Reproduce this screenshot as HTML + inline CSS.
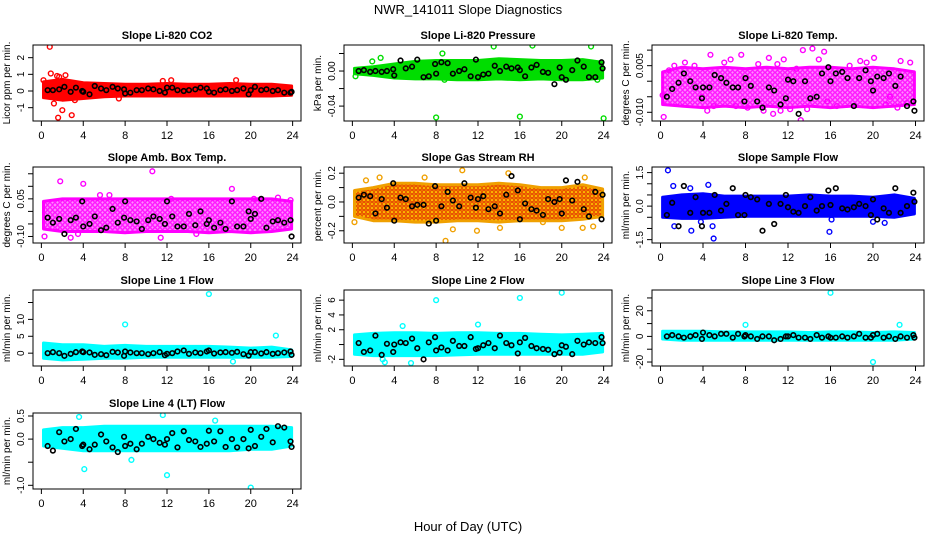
<!DOCTYPE html>
<html><head><meta charset="utf-8"><style>
html,body{margin:0;padding:0;background:#fff;}
svg{display:block;font-family:"Liberation Sans",sans-serif;}
</style></head><body>
<svg id="chart" width="936" height="540" viewBox="0 0 936 540">
<defs>
<pattern id="patMag" width="5" height="5" patternUnits="userSpaceOnUse"><rect width="5" height="5" fill="#ff00ff" opacity="0.45"/><circle cx="2.5" cy="2.5" r="1.8" fill="none" stroke="#ff00ff" stroke-width="1.2"/></pattern>
<pattern id="patRH" width="4" height="4" patternUnits="userSpaceOnUse"><rect width="4" height="4" fill="#ffd000"/><circle cx="2" cy="2" r="1.3" fill="none" stroke="#e02000" stroke-width="1"/></pattern>
</defs>
<text x="468" y="14" text-anchor="middle" font-size="13">NWR_141011  Slope Diagnostics</text>
<text x="468" y="531" text-anchor="middle" font-size="13">Hour of Day (UTC)</text>
</svg>
<script>
const xTicks = [0,4,8,12,16,20,24];
const bandHours = [0,2,4,6,8,10,12,14,16,18,20,22,24];
const blackX = [0.6,1.1,1.7,2.2,2.8,3.3,3.9,4.0,4.6,5.1,5.7,6.2,6.8,7.3,7.9,8.0,8.5,9.1,9.6,10.2,10.7,11.3,11.8,12.0,12.5,13.0,13.6,14.1,14.7,15.2,15.8,16.0,16.5,17.1,17.6,18.2,18.7,19.3,19.8,20.0,20.4,21.0,21.5,22.1,22.6,23.2,23.8,23.9];

const titles = ["Slope Li-820 CO2","Slope Li-820 Pressure","Slope Li-820 Temp.","Slope Amb. Box Temp.","Slope Gas Stream RH","Slope Sample Flow","Slope Line 1 Flow","Slope Line 2 Flow","Slope Line 3 Flow","Slope Line 4 (LT) Flow"];
const yTitles = ["Licor ppm per min.","kPa per min.","degrees C per min.","degrees C per min.","percent per min.","ml/min per min.","ml/min per min.","ml/min per min.","ml/min per min.","ml/min per min."];
const colors = ["#ff0000","#00dd00","#ff00ff","#ff00ff","#f0a000","#0000ff","#00ffff","#00ffff","#00ffff","#00ffff"];
const fills = ["#ff0000","#00dd00","url(#patMag)","url(#patMag)","url(#patRH)","#0000ff","#00ffff","#00ffff","#00ffff","#00ffff"];
const yMin = [-1.8,-0.057,-0.0128,-0.126,-0.285,-1.65,-3.8,-2.9,-23.1,-1.08];
const yMax = [2.76,0.0297,0.01165,0.177,0.243,1.75,18.7,7.37,36.2,0.565];
const yTickVals = [[-1,0,1,2],[-0.04,-0.02,0,0.02],[-0.01,-0.005,0,0.005,0.01],[-0.1,-0.05,0,0.05,0.1,0.15],[-0.2,-0.1,0,0.1,0.2],[-1.5,-1,-0.5,0,0.5,1,1.5],[0,5,10,15],[-2,0,2,4,6],[-20,-10,0,10,20,30],[-1,-0.5,0,0.5]];
const yTickLabels = [["-1","0","1","2"],["-0.04","","0.00",""],["-0.010","","","0.005",""],["-0.10","","","0.05","",""],["-0.2","","0.0","","0.2"],["-1.5","","","0.0","","","1.5"],["0","5","10",""],["-2","","2","4","6"],["-20","","0","","20",""],["-1.0","","0.0","0.5"]];

const bandLo = [
[-0.4,-0.55,-0.45,-0.35,-0.3,-0.3,-0.3,-0.3,-0.3,-0.3,-0.3,-0.3,-0.25],
[-0.003,-0.005,-0.008,-0.009,-0.009,-0.01,-0.01,-0.009,-0.01,-0.009,-0.01,-0.01,-0.008],
[-0.0075,-0.008,-0.0085,-0.008,-0.0085,-0.008,-0.0085,-0.008,-0.0085,-0.008,-0.0085,-0.008,-0.0075],
[-0.07,-0.08,-0.08,-0.08,-0.085,-0.08,-0.08,-0.08,-0.085,-0.08,-0.085,-0.08,-0.07],
[-0.1,-0.13,-0.13,-0.14,-0.14,-0.13,-0.13,-0.14,-0.13,-0.13,-0.13,-0.12,-0.1],
[-0.5,-0.55,-0.55,-0.5,-0.45,-0.45,-0.45,-0.45,-0.45,-0.45,-0.45,-0.5,-0.35],
[-1.5,-2,-1.8,-1.5,-1.5,-1.2,-1.2,-1.2,-1.2,-1.2,-1.2,-1.2,-1],
[-1.3,-1.5,-1.5,-1.5,-1.5,-1.4,-1.3,-1.3,-1.3,-1.3,-1.3,-1.3,-1],
[-2,-3,-3,-3,-3,-3,-3,-3,-3,-3,-3,-3,-2],
[-0.15,-0.2,-0.25,-0.25,-0.25,-0.25,-0.25,-0.25,-0.25,-0.25,-0.22,-0.22,-0.15]];
const bandHi = [
[0.55,0.7,0.5,0.45,0.4,0.4,0.45,0.4,0.4,0.45,0.4,0.4,0.3],
[0.003,0.005,0.008,0.011,0.012,0.012,0.012,0.014,0.013,0.012,0.012,0.013,0.01],
[0.003,0.0045,0.004,0.0045,0.004,0.0045,0.004,0.0045,0.0045,0.004,0.0045,0.004,0.003],
[0.04,0.05,0.05,0.05,0.05,0.05,0.05,0.05,0.05,0.05,0.05,0.05,0.04],
[0.08,0.1,0.13,0.13,0.12,0.12,0.12,0.13,0.12,0.1,0.1,0.12,0.09],
[0.4,0.5,0.55,0.45,0.45,0.45,0.45,0.5,0.45,0.45,0.4,0.5,0.35],
[3,2.5,2.5,2,2.3,2,2,2,2,1.8,1.5,1.8,1],
[1.3,1.5,1.6,1.6,1.5,1.6,1.6,1.5,1.5,1.4,1.3,1.4,1.5],
[4,4,4,3.5,3.5,3.5,3.5,3,3.5,3.5,3,3.5,3],
[0.2,0.25,0.25,0.28,0.28,0.28,0.28,0.28,0.28,0.28,0.28,0.28,0.25]];

const outX = [
[0.2,0.8,0.9,1.2,1.5,1.6,1.7,2.0,2.3,2.9,3.2,7.4,11.6,12.4,18.6],
[0.3,1.9,2.7,8.0,8.6,8.8,13.5,16.0,17.2,22.8,23.4,24.0],
[0.2,0.3,0.8,1.3,2.3,3.2,3.9,4.4,4.7,5.0,6.0,6.6,7.1,7.6,8.2,9.2,9.7,10.2,10.6,11.0,11.3,11.6,12.2,12.8,13.2,13.4,13.8,14.3,14.9,15.4,15.7,16.6,17.8,18.8,19.4,20.1,21.2,21.6,22.3,22.6,23.2,23.5],
[0.3,1.8,2.8,3.5,4.0,5.6,6.5,10.6,11.4,12.4,14.8,17.4,18.2,20.3,22.6,23.8],
[0.2,1.3,2.6,6.9,10.5,9.6,11.9,8.9,14.1,14.9,18.2,20.0,22.2,22.0,23.0],
[0.7,1.2,1.3,2.8,2.9,3.8,4.5,4.9,5.0,15.9,16.1,20.0,21.1],
[8.0,16.0,18.3,22.4],
[8.0,16.0,20.0,2.9,3.1,5.6,4.8,12.0],
[16.0,20.0,8.0,22.5],
[4.1,12.0,20.0,3.6,8.6,11.6,16.6]];
const outY = [
[0.65,2.65,1.05,-0.75,0.9,-1.6,0.85,-1.15,0.95,-1.45,-0.55,-0.45,0.6,0.65,0.65],
[-0.006,0.011,0.015,-0.053,0.02,-0.01,0.028,-0.052,0.029,0.028,-0.01,-0.054],
[-0.0045,-0.0115,0.0035,0.005,0.006,0.005,-0.005,-0.0095,0.0085,-0.008,0.006,0.007,-0.008,0.0085,-0.0085,0.0055,-0.0095,0.0075,-0.0105,0.0055,-0.0095,0.007,-0.009,0.004,-0.0125,0.01,-0.009,0.0105,0.007,0.0095,-0.0065,-0.008,0.005,0.0065,0.006,0.0075,-0.0075,-0.005,-0.0085,0.0065,-0.007,0.006],
[-0.1,0.12,-0.105,-0.09,0.11,0.065,0.065,0.16,-0.105,0.05,-0.09,-0.07,0.09,0.05,0.055,0.045],
[-0.14,0.15,0.17,0.17,0.22,-0.19,-0.2,-0.27,-0.18,0.2,-0.14,-0.18,0.17,-0.18,-0.17],
[1.6,0.9,-0.9,0.8,-1.1,-0.7,0.95,-0.9,-1.45,-1.15,-0.6,-0.7,-0.75],
[8.5,17.5,-2.5,5.2],
[6.0,6.3,7.0,-2.0,-2.4,-2.5,2.5,2.7],
[34,-20,9,9],
[-0.65,-0.78,-1.05,0.48,-0.45,0.52,0.4]];

const blackY = [
[0.05,0.05,0.1,0.25,-0.05,0.2,0.0,-0.05,-0.2,0.3,0.15,0.05,0.25,0.15,0.1,-0.15,-0.1,0.05,0.05,0.15,0.1,0.0,-0.1,0.2,0.2,0.05,0.0,0.05,0.1,0.2,0.15,-0.05,-0.1,0.05,0.1,0.0,0.05,0.15,-0.2,0.05,0.25,0.05,0.1,0.0,0.05,-0.1,-0.1,-0.05],
[0,0.001,-0.001,0,-0.001,0,0.002,-0.005,0.012,0.003,0.005,0.013,-0.007,-0.006,0.008,-0.003,0.01,0.009,-0.003,0,0.002,-0.006,0.013,-0.007,-0.004,-0.003,0.006,0.0,0.005,0.003,0.004,0.001,-0.006,0.004,0.007,-0.001,-0.002,-0.015,0.004,-0.007,-0.01,0.001,0.012,0.005,-0.007,-0.007,0.01,0.003],
[-0.005,-0.0025,-0.0005,0.0025,0.0,-0.002,-0.0055,-0.002,-0.002,0.002,0.001,-0.0005,-0.002,-0.002,-0.0065,0.001,-0.0015,-0.0065,-0.0085,-0.002,-0.003,-0.0075,-0.0055,0.0005,0.0,-0.0105,0.0,-0.0055,-0.005,0.0025,0.0045,0.0,0.0025,0.003,0.001,-0.008,0.001,0.0035,0.0,-0.003,0.0015,0.001,0.0025,-0.0015,0.0015,-0.008,-0.0065,-0.0095],
[-0.025,-0.045,-0.03,-0.09,-0.035,-0.025,0.04,-0.06,-0.05,-0.02,-0.075,-0.065,0.01,-0.045,-0.025,0.04,-0.035,-0.04,-0.07,-0.035,-0.02,-0.03,-0.05,0.04,-0.02,-0.06,-0.06,-0.01,-0.055,0.0,-0.05,-0.035,-0.065,-0.045,-0.07,0.04,-0.06,-0.06,0.0,-0.03,-0.01,0.05,-0.065,-0.04,-0.035,-0.045,-0.035,-0.1],
[0.03,0.05,0.04,-0.08,0.02,-0.04,0.13,-0.13,0.03,0.02,-0.03,-0.02,-0.02,-0.15,0.11,-0.13,-0.03,0.07,0.01,-0.03,0.13,0.03,-0.04,0.02,0.04,-0.05,-0.03,-0.08,0.05,0.18,0.08,-0.12,-0.01,-0.05,-0.06,-0.09,0.02,0.0,0.02,-0.08,0.15,0.01,0.14,-0.05,-0.1,0.07,-0.12,0.05],
[-0.4,0.15,-0.9,0.9,-0.3,0.4,-0.9,-0.3,-0.3,0.5,-0.2,0.1,0.8,-0.4,-0.4,0.5,0.4,0.3,-1.1,0.1,-0.8,0.1,0.5,-0.05,-0.25,-0.3,0.0,0.4,-0.2,0.0,0.7,0.05,0.8,-0.1,-0.15,-0.05,0.1,0.0,-0.4,0.3,-0.6,-0.1,-0.3,0.8,-0.3,0.0,0.6,0.2],
[0,0.3,0,-0.8,-0.2,0.3,0.5,0.3,0.2,-0.5,-0.3,-0.6,0.4,0.2,-0.8,0.5,0.2,0,0,-0.3,0,0.3,-0.6,-0.2,0,0.5,0.8,-0.2,0.2,0,0.5,0.8,-0.1,0.2,0.3,0.1,0.4,-0.3,-0.7,0.3,0.3,-0.1,0.3,-0.2,0,0.2,0.5,-0.5],
[0.2,-1.0,-0.8,1.2,-1.4,0.1,-1.0,0.0,0.3,0.2,0.8,-0.5,-2.0,0.3,1.0,-0.8,-0.4,-0.8,0.5,-0.2,-0.2,1.0,-0.6,-0.5,-0.1,0.2,-0.5,1.2,0.2,-0.1,-1.2,0.3,0.9,-0.2,-0.5,-0.6,-0.7,-1.3,-1.1,-0.1,-0.3,-1.3,0.5,0.0,0.3,0.2,1.0,0.2],
[0,1,0,-1,0,1,-2,3,1,0,2,2,-1,2,0,1,0,-2,0,0,-3,-2,0,0,1,-1,-1,-2,1,-1,0,-1,-1,0,-1,0,2,-1,-1,1,2,-1,0,-2,0,-1,1,-1],
[-0.15,-0.25,0.15,-0.05,0.0,0.22,-0.15,-0.12,-0.22,-0.12,0.1,-0.05,-0.18,-0.28,0.05,-0.15,-0.1,-0.22,-0.1,0.05,0.0,-0.08,-0.12,0.0,0.13,-0.18,0.17,-0.02,-0.05,-0.17,-0.1,0.18,-0.05,0.17,-0.17,0.0,-0.18,0.0,-0.2,0.2,-0.15,0.05,0.22,-0.07,0.28,0.25,-0.05,-0.17]];

const svg = document.getElementById('chart');
const NS = 'http://www.w3.org/2000/svg';
const colLeft = [33,344,652], colW = [268,268,272];
const rowTop = [45,167,290,413], boxH = 76;
const XMIN = -0.8, XMAX = 24.8;

function mk(tag, attrs, parent){
  const e = document.createElementNS(NS, tag);
  for (const k in attrs) e.setAttribute(k, attrs[k]);
  (parent||svg).appendChild(e);
  return e;
}

for (let p = 0; p < titles.length; p++) {
  const L = colLeft[p%3], W = colW[p%3], T = rowTop[Math.floor(p/3)], B = T + boxH;
  const sx = v => L + (v - XMIN) / (XMAX - XMIN) * W;
  const sy = v => B - (v - yMin[p]) / (yMax[p] - yMin[p]) * boxH;
  const g = mk('g', {});
  
  
  const clipId = 'clip' + p;
  const cp = mk('clipPath', {id: clipId}, g);
  mk('rect', {x: L, y: T, width: W, height: boxH}, cp);
  const plot = mk('g', {'clip-path': 'url(#' + clipId + ')'}, g);
  
  

  let d = '';
  bandHours.forEach((h, i) => { const hx = Math.min(Math.max(h, 0.2), 23.9); d += (i ? 'L' : 'M') + sx(hx).toFixed(1) + ' ' + sy(bandHi[p][i]).toFixed(1); });
  for (let i = bandHours.length - 1; i >= 0; i--) { const hx = Math.min(Math.max(bandHours[i], 0.2), 23.9); d += 'L' + sx(hx).toFixed(1) + ' ' + sy(bandLo[p][i]).toFixed(1); }
  const band = mk('path', {d: d + 'Z', fill: fills[p], stroke: colors[p], 'stroke-width': 3, 'stroke-linejoin': 'round'}, plot);
  
  

  outX[p].forEach((x, i) => {
    const c = mk('circle', {cx: sx(x), cy: sy(outY[p][i]), r: 2.4, fill: 'none', stroke: colors[p], 'stroke-width': 1.4}, plot);
    
    
  });
  blackX.forEach((x, i) => {
    const c = mk('circle', {cx: sx(x), cy: sy(blackY[p][i]), r: 2.3, fill: 'none', stroke: '#000', 'stroke-width': 1.6}, plot);
    
    
  });

  const box = mk('rect', {x: L, y: T, width: W, height: boxH, fill: 'none', stroke: '#000', 'stroke-width': 1}, g);
  
  

  const ttl = mk('text', {x: L + W/2, y: T - 6, 'text-anchor': 'middle', 'font-size': 11, 'font-weight': 'bold'}, g);
  ttl.textContent = titles[p];
  
  

  mk('line', {x1: sx(0), x2: sx(24), y1: B, y2: B, stroke: '#000'}, g);
  xTicks.forEach(t => {
    mk('line', {x1: sx(t), x2: sx(t), y1: B, y2: B + 5, stroke: '#000'}, g);
    const tx = mk('text', {x: sx(t), y: B + 18, 'text-anchor': 'middle', 'font-size': 11}, g);
    tx.textContent = t;
    
    
  });
  const tv = yTickVals[p];
  mk('line', {x1: L, x2: L, y1: sy(tv[0]), y2: sy(tv[tv.length-1]), stroke: '#000'}, g);
  tv.forEach((t, i) => {
    mk('line', {x1: L - 5, x2: L, y1: sy(t), y2: sy(t), stroke: '#000'}, g);
    if (yTickLabels[p][i]) {
      const ty = mk('text', {x: L - 9, y: sy(t), 'text-anchor': 'middle', 'font-size': 10, transform: 'rotate(-90 ' + (L-9) + ' ' + sy(t) + ')'}, g);
      ty.textContent = yTickLabels[p][i];
      
      
    }
  });
  const yt = mk('text', {x: L - 23, y: T + boxH/2, 'text-anchor': 'middle', 'font-size': 10, transform: 'rotate(-90 ' + (L-23) + ' ' + (T+boxH/2) + ')'}, g);
  yt.textContent = yTitles[p];
  
  
}
</script>
</body></html>
